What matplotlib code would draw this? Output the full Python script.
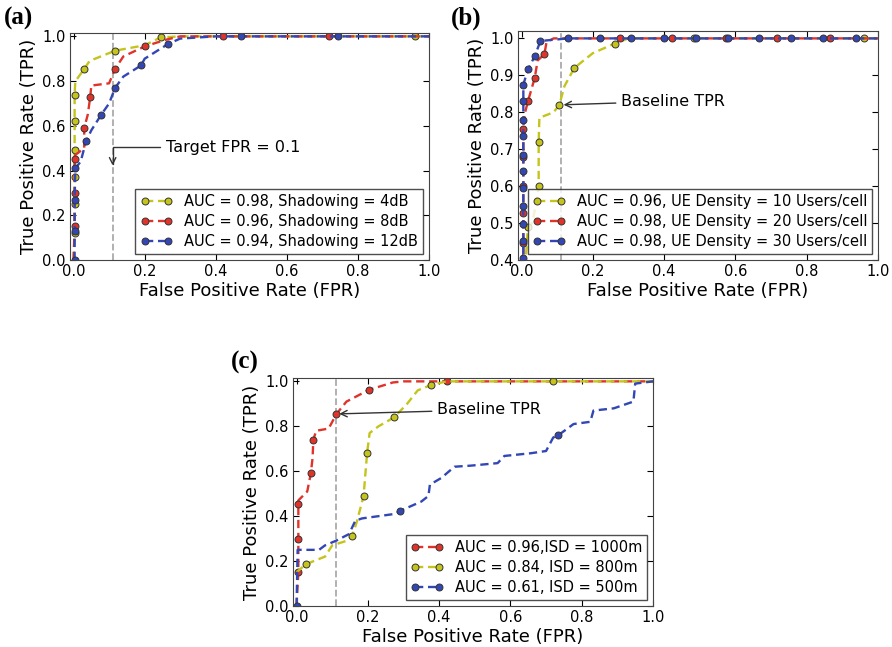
import matplotlib
matplotlib.use("Agg")
import matplotlib.pyplot as plt

# colours of the three curves
c_yel = '#c4c41c'
c_red = '#e0332a'
c_blu = '#3246b4'

# ---- panel (a): shadowing ----
a_y_fpr = [0.0, 0.003, 0.003, 0.003, 0.003, 0.003, 0.003, 0.005, 0.01, 0.03, 0.045, 0.117, 0.2, 0.245, 0.3, 0.96, 1.0]
a_y_tpr = [0.0, 0.12, 0.25, 0.37, 0.49, 0.62, 0.74, 0.80, 0.81, 0.854, 0.89, 0.936, 0.96, 0.995, 1.0, 1.0, 1.0]
a_y_mk = [1, 2, 3, 4, 5, 6, 9, 11, 13, 15]

a_r_fpr = [0.0, 0.003, 0.003, 0.003, 0.005, 0.03, 0.03, 0.04, 0.047, 0.05, 0.1, 0.117, 0.14, 0.2, 0.26, 0.3, 0.42, 0.72, 1.0]
a_r_tpr = [0.0, 0.15, 0.30, 0.45, 0.47, 0.50, 0.59, 0.65, 0.73, 0.78, 0.79, 0.855, 0.91, 0.955, 0.985, 1.0, 1.0, 1.0, 1.0]
a_r_mk = [1, 2, 3, 6, 8, 11, 13, 16, 17]

a_b_fpr = [0.003, 0.003, 0.003, 0.005, 0.02, 0.035, 0.05, 0.078, 0.1, 0.117, 0.14, 0.19, 0.2, 0.265, 0.3, 0.4, 0.47, 0.745, 1.0]
a_b_tpr = [0.0, 0.13, 0.27, 0.41, 0.44, 0.53, 0.58, 0.65, 0.70, 0.77, 0.82, 0.87, 0.90, 0.965, 0.99, 1.0, 1.0, 1.0, 1.0]
a_b_mk = [0, 1, 2, 3, 5, 7, 9, 11, 13, 16, 17]

a_labels = ['AUC = 0.98, Shadowing = 4dB', 'AUC = 0.96, Shadowing = 8dB', 'AUC = 0.94, Shadowing = 12dB']

# ---- panel (b): UE density ----
b_y_fpr = [0.01, 0.018, 0.03, 0.04, 0.048, 0.048, 0.05, 0.09, 0.106, 0.12, 0.148, 0.2, 0.261, 0.3, 0.483, 0.96, 1.0]
b_y_tpr = [0.38, 0.49, 0.50, 0.55, 0.60, 0.72, 0.785, 0.80, 0.82, 0.87, 0.92, 0.96, 0.986, 1.0, 1.0, 1.0, 1.0]
b_y_mk = [1, 4, 5, 8, 10, 12, 14, 15]

b_r_fpr = [0.005, 0.005, 0.005, 0.005, 0.005, 0.005, 0.01, 0.018, 0.03, 0.037, 0.045, 0.064, 0.07, 0.09,
           0.277, 0.423, 0.574, 0.718, 0.865, 1.0]
b_r_tpr = [0.38, 0.445, 0.527, 0.60, 0.68, 0.755, 0.80, 0.83, 0.87, 0.893, 0.94, 0.957, 0.99, 1.0,
           1.0, 1.0, 1.0, 1.0, 1.0, 1.0]
b_r_mk = [1, 2, 3, 4, 5, 7, 9, 11, 14, 15, 16, 17, 18]

b_b_fpr = [0.005, 0.005, 0.005, 0.005, 0.005, 0.005, 0.005, 0.005, 0.005, 0.005, 0.005, 0.005,
           0.018, 0.037, 0.053, 0.131, 0.219, 0.307, 0.4, 0.488, 0.578, 0.667, 0.756, 0.847, 0.937, 1.0]
b_b_tpr = [0.38, 0.406, 0.452, 0.498, 0.547, 0.595, 0.64, 0.685, 0.735, 0.78, 0.83, 0.875,
           0.916, 0.952, 0.993, 1.0, 1.0, 1.0, 1.0, 1.0, 1.0, 1.0, 1.0, 1.0, 1.0, 1.0]
b_b_mk = list(range(1, 25))

b_labels = ['AUC = 0.96, UE Density = 10 Users/cell', 'AUC = 0.98, UE Density = 20 Users/cell',
            'AUC = 0.98, UE Density = 30 Users/cell']

# ---- panel (c): ISD ----
c_r_fpr = [0.0, 0.005, 0.005, 0.005, 0.005, 0.03, 0.04, 0.045, 0.047, 0.055, 0.09, 0.112, 0.14, 0.204, 0.27, 0.3, 0.423, 1.0]
c_r_tpr = [0.0, 0.15, 0.30, 0.455, 0.47, 0.51, 0.59, 0.66, 0.74, 0.78, 0.79, 0.855, 0.91, 0.963, 0.995, 1.0, 1.0, 1.0]
c_r_mk = [1, 2, 3, 6, 8, 11, 13, 16]

c_y_fpr = [0.0, 0.026, 0.08, 0.1, 0.14, 0.156, 0.17, 0.188, 0.198, 0.205, 0.23, 0.274, 0.31, 0.34, 0.376, 0.42, 0.72, 1.0]
c_y_tpr = [0.15, 0.186, 0.22, 0.27, 0.29, 0.312, 0.38, 0.49, 0.683, 0.77, 0.80, 0.84, 0.90, 0.96, 0.983, 1.0, 1.0, 1.0]
c_y_mk = [1, 5, 7, 8, 11, 14, 16]

c_b_fpr = [0.0, 0.003, 0.063, 0.08, 0.11, 0.147, 0.165, 0.184, 0.276, 0.29, 0.35, 0.37, 0.374, 0.406, 0.443,
           0.49, 0.564, 0.583, 0.657, 0.70, 0.72, 0.734, 0.76, 0.777, 0.824, 0.833, 0.89, 0.945, 0.95, 1.0]
c_b_tpr = [0.0, 0.25, 0.25, 0.27, 0.29, 0.32, 0.38, 0.39, 0.41, 0.423, 0.465, 0.49, 0.54, 0.57, 0.62,
           0.625, 0.636, 0.668, 0.68, 0.69, 0.75, 0.76, 0.79, 0.81, 0.82, 0.87, 0.88, 0.91, 0.99, 1.0]
c_b_mk = [0, 9, 21]

c_labels = ['AUC = 0.96,ISD = 1000m', 'AUC = 0.84, ISD = 800m', 'AUC = 0.61, ISD = 500m']

baseline_fpr = 0.11

W, H = 892, 647
fig = plt.figure(figsize=(W / 100, H / 100), dpi=100)


def px_axes(x0, y0, x1, y1):
    # pixel box (top-left origin) -> figure fraction
    return fig.add_axes([x0 / W, 1 - y1 / H, (x1 - x0) / W, (y1 - y0) / H])


def curve(ax, x, y, mk, col, lab):
    ax.plot(x, y, '--', color=col, lw=1.7, marker='o', ms=5, mfc=col, mec='#333333', mew=0.7,
            markevery=mk, label=lab, dashes=(3.5, 2))


def style(ax, ylo, ytop, yticks):
    ax.set_xlim(-0.01, 1.0)
    ax.set_ylim(ylo, ytop)
    ax.set_xticks([0.0, 0.2, 0.4, 0.6, 0.8, 1.0])
    ax.set_yticks(yticks)
    ax.xaxis.set_major_formatter(matplotlib.ticker.FormatStrFormatter('%.1f'))
    ax.yaxis.set_major_formatter(matplotlib.ticker.FormatStrFormatter('%.1f'))
    ax.tick_params(direction='in', top=True, right=True, labelsize=10.5, length=4, pad=3)
    for s in ax.spines.values():
        s.set_color('#444444')
    ax.set_xlabel('False Positive Rate (FPR)', fontsize=13, labelpad=2)
    ax.set_ylabel('True Positive Rate (TPR)', fontsize=13, labelpad=3)
    ax.axvline(baseline_fpr, color='#aaaaaa', lw=1.3, ls='--', zorder=0)


def legend(ax, loc):
    lg = ax.legend(loc=loc, numpoints=2, fontsize=10.5, fancybox=False, handlelength=2.2,
                   borderpad=0.35, labelspacing=0.35, handletextpad=0.8, borderaxespad=0.4)
    lg.get_frame().set_edgecolor('#222222')
    lg.get_frame().set_linewidth(1.0)


# (a)
ax = px_axes(70, 33, 429, 260)
curve(ax, a_y_fpr, a_y_tpr, a_y_mk, c_yel, a_labels[0])
curve(ax, a_r_fpr, a_r_tpr, a_r_mk, c_red, a_labels[1])
curve(ax, a_b_fpr, a_b_tpr, a_b_mk, c_blu, a_labels[2])
style(ax, 0.0, 1.015, [0.0, 0.2, 0.4, 0.6, 0.8, 1.0])
legend(ax, 'lower right')
ax.annotate('Target FPR = 0.1', xy=(baseline_fpr, 0.41), xytext=(0.26, 0.505), fontsize=11.5, va='center',
            arrowprops=dict(arrowstyle='->', color='#333333', lw=1,
                            connectionstyle='angle,angleA=0,angleB=90,rad=0'))
fig.text(4 / W, 1 - 18 / H, '(a)', fontsize=18, fontweight='bold', family='Liberation Serif', va='center')

# (b)
ax = px_axes(518, 31, 878, 260)
curve(ax, b_y_fpr, b_y_tpr, b_y_mk, c_yel, b_labels[0])
curve(ax, b_r_fpr, b_r_tpr, b_r_mk, c_red, b_labels[1])
curve(ax, b_b_fpr, b_b_tpr, b_b_mk, c_blu, b_labels[2])
style(ax, 0.4, 1.02, [0.4, 0.5, 0.6, 0.7, 0.8, 0.9, 1.0])
legend(ax, 'lower right')
ax.annotate('Baseline TPR', xy=(baseline_fpr, 0.82), xytext=(0.28, 0.83), fontsize=11.5, va='center',
            arrowprops=dict(arrowstyle='->', color='#333333', lw=1))
fig.text(451 / W, 1 - 18 / H, '(b)', fontsize=18, fontweight='bold', family='Liberation Serif', va='center')

# (c)
ax = px_axes(293, 378, 653, 606)
curve(ax, c_r_fpr, c_r_tpr, c_r_mk, c_red, c_labels[0])
curve(ax, c_y_fpr, c_y_tpr, c_y_mk, c_yel, c_labels[1])
curve(ax, c_b_fpr, c_b_tpr, c_b_mk, c_blu, c_labels[2])
style(ax, 0.0, 1.015, [0.0, 0.2, 0.4, 0.6, 0.8, 1.0])
legend(ax, 'lower right')
ax.annotate('Baseline TPR', xy=(0.112, 0.855), xytext=(0.395, 0.874), fontsize=11.5, va='center',
            arrowprops=dict(arrowstyle='->', color='#333333', lw=1))
fig.text(231 / W, 1 - 362 / H, '(c)', fontsize=18, fontweight='bold', family='Liberation Serif', va='center')

fig.savefig('out.png', dpi=100)
